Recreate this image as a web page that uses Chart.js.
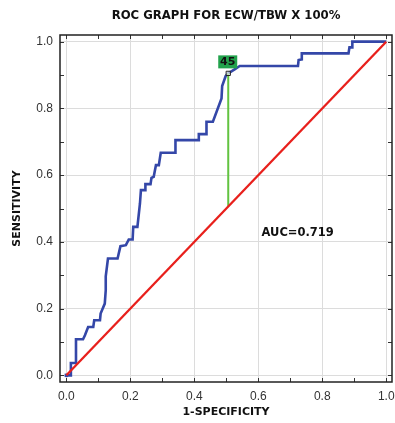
<!DOCTYPE html>
<html>
<head>
<meta charset="utf-8">
<script src="https://cdn.jsdelivr.net/npm/chart.js@4/dist/chart.umd.min.js"></script>
<style>
  html, body { margin: 0; padding: 0; background: #fff; }
  #wrap { width: 395px; height: 423px; }
</style>
</head>
<body>
<div id="wrap"><canvas id="roc"></canvas></div>
<script>
// --- DATOS ---
const rocFpr = [0, 0.014, 0.014, 0.03, 0.03, 0.052, 0.058, 0.068, 0.084, 0.087, 0.105, 0.107, 0.12, 0.123, 0.123,
  0.13, 0.16, 0.169, 0.186, 0.195, 0.207, 0.209, 0.222, 0.23, 0.233, 0.247, 0.247, 0.263, 0.266, 0.273,
  0.28, 0.289, 0.295, 0.341, 0.341, 0.412, 0.414, 0.438, 0.438, 0.458, 0.485, 0.487, 0.498, 0.506,
  0.526, 0.542, 0.724, 0.726, 0.736, 0.736, 0.882, 0.885, 0.894, 0.894, 1.0];
const rocTpr = [0, 0, 0.037, 0.037, 0.108, 0.108, 0.12, 0.145, 0.145, 0.165, 0.165, 0.185, 0.215, 0.255, 0.297,
  0.35, 0.35, 0.387, 0.39, 0.407, 0.407, 0.445, 0.445, 0.515, 0.555, 0.555, 0.573, 0.573, 0.592, 0.595,
  0.63, 0.63, 0.667, 0.667, 0.705, 0.705, 0.723, 0.723, 0.76, 0.76, 0.83, 0.867, 0.897, 0.905,
  0.917, 0.927, 0.927, 0.945, 0.947, 0.965, 0.965, 0.983, 0.983, 1.0, 1.0];
const refX = [0, 1];
const refY = [0, 1];
const cutoffX = [0.506, 0.506];
const cutoffY = [0.905, 0.506];
const cutoffLabel = '45';
const aucText = 'AUC=0.719';
const aucPos = { x: 0.61, y: 0.426 };
const tickValues = [0, 0.1, 0.2, 0.3, 0.4, 0.5, 0.6, 0.7, 0.8, 0.9, 1.0];

const toPoints = (xs, ys) => xs.map((x, i) => ({ x: x, y: ys[i] }));
const isMajor = v => Math.abs(v * 5 - Math.round(v * 5)) < 1e-6;

// --- PLUGIN: título, marco, ticks internos, etiquetas ---
const decorPlugin = {
  id: 'decor',
  afterDatasetsDraw(chart) {
    const { ctx, chartArea: a, scales: { x, y } } = chart;
    ctx.save();
    // ticks hacia dentro
    ctx.strokeStyle = '#333';
    ctx.lineWidth = 1;
    tickValues.forEach(v => {
      const px = Math.round(x.getPixelForValue(v)) + 0.5;
      const py = Math.round(y.getPixelForValue(v)) + 0.5;
      ctx.beginPath();
      ctx.moveTo(px, a.bottom); ctx.lineTo(px, a.bottom - 4);
      ctx.moveTo(px, a.top); ctx.lineTo(px, a.top + 4);
      ctx.moveTo(a.left, py); ctx.lineTo(a.left + 4, py);
      ctx.moveTo(a.right, py); ctx.lineTo(a.right - 4, py);
      ctx.stroke();
    });
    // marco
    ctx.strokeStyle = '#222';
    ctx.lineWidth = 1.5;
    ctx.strokeRect(a.left, a.top, a.right - a.left, a.bottom - a.top);

    // caja del punto de corte
    const cx = x.getPixelForValue(cutoffX[0]);
    const cy = y.getPixelForValue(cutoffY[0]);
    ctx.fillStyle = '#22a24c';
    ctx.fillRect(cx - 10, cy - 18, 19, 13);
    ctx.fillStyle = '#111';
    ctx.font = 'bold 11px "DejaVu Sans"';
    ctx.textAlign = 'center';
    ctx.textBaseline = 'middle';
    ctx.fillText(cutoffLabel, cx - 0.5, cy - 11);

    // AUC
    ctx.textAlign = 'left';
    ctx.font = 'bold 11.5px "DejaVu Sans"';
    ctx.fillText(aucText, x.getPixelForValue(aucPos.x), y.getPixelForValue(aucPos.y));

    // título centrado sobre el área
    ctx.textAlign = 'center';
    ctx.font = 'bold 11.7px "DejaVu Sans"';
    ctx.fillText('ROC GRAPH FOR ECW/TBW X 100%', (a.left + a.right) / 2, 16);
    ctx.restore();
  }
};

const axisCommon = {
  type: 'linear',
  min: -0.02,
  border: { display: false },
  afterBuildTicks: s => { s.ticks = tickValues.map(v => ({ value: v })); },
  grid: {
    drawTicks: false,
    color: c => (c.tick && isMajor(c.tick.value)) ? '#dcdcdc' : 'rgba(0,0,0,0)',
    lineWidth: 1
  },
  ticks: {
    color: '#333',
    padding: 7,
    font: { family: '"Liberation Sans", Arial, sans-serif', size: 12 },
    callback: v => isMajor(v) ? v.toFixed(1) : ''
  }
};

new Chart(document.getElementById('roc'), {
  type: 'scatter',
  data: {
    datasets: [
      {
        label: 'ref',
        data: toPoints(refX, refY),
        showLine: true,
        borderColor: '#e8201c',
        borderWidth: 2.3,
        pointRadius: 0
      },
      {
        label: 'cutoff',
        data: toPoints(cutoffX, cutoffY),
        showLine: true,
        borderColor: '#62c341',
        borderWidth: 2,
        pointRadius: [3, 0],
        pointStyle: 'rect',
        pointBackgroundColor: 'rgba(255,255,255,0.6)',
        pointBorderColor: '#222',
        pointBorderWidth: 1
      },
      {
        label: 'roc',
        data: toPoints(rocFpr, rocTpr),
        showLine: true,
        borderColor: '#3447a8',
        borderWidth: 2.6,
        borderJoinStyle: 'miter',
        pointRadius: rocFpr.map((v, i) => i === 0 ? 2.5 : 0),
        pointStyle: 'rect',
        pointBackgroundColor: '#3447a8',
        pointBorderWidth: 0
      }
    ]
  },
  options: {
    responsive: true,
    maintainAspectRatio: false,
    animation: false,
    layout: { autoPadding: false, padding: { top: 35, right: 3, left: 0, bottom: 0 } },
    plugins: { legend: { display: false }, tooltip: { enabled: false }, title: { display: false } },
    scales: {
      x: Object.assign({}, axisCommon, {
        max: 1.018,
        position: 'bottom',
        afterFit: s => { s.height = 41; s.paddingLeft = 0; s.paddingRight = 0; },
        title: {
          display: true, text: '1-SPECIFICITY', color: '#111',
          font: { family: '"DejaVu Sans"', size: 11, weight: 'bold' },
          padding: { top: 0, bottom: 4 }
        }
      }),
      y: Object.assign({}, axisCommon, {
        max: 1.02,
        position: 'left',
        afterFit: s => { s.width = 60; s.paddingTop = 0; s.paddingBottom = 0; },
        title: {
          display: true, text: 'SENSITIVITY', color: '#111',
          font: { family: '"DejaVu Sans"', size: 11, weight: 'bold' },
          padding: { top: 11, bottom: 0 }
        }
      })
    }
  },
  plugins: [decorPlugin]
});
</script>
</body>
</html>
